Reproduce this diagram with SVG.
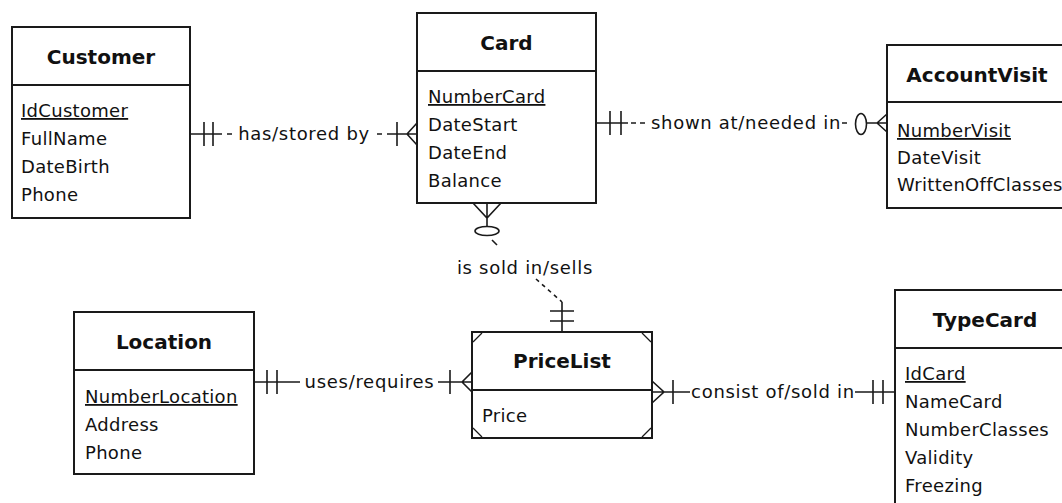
<svg xmlns="http://www.w3.org/2000/svg" width="1062" height="503" viewBox="0 0 1062 503">
  <style>
    .box { fill: #ffffff; stroke: #1a1a1a; stroke-width: 2; }
    .sep { stroke: #1a1a1a; stroke-width: 2; }
    .title { font-family: "DejaVu Sans", "Liberation Sans", sans-serif; font-weight: bold; font-size: 20px; fill: #111111; text-anchor: middle; }
    .attr { font-family: "DejaVu Sans", "Liberation Sans", sans-serif; font-size: 18px; letter-spacing: 0.3px; fill: #111111; }
    .key { text-decoration: underline; }
    .label { font-family: "DejaVu Sans", "Liberation Sans", sans-serif; font-size: 18px; letter-spacing: 0.7px; fill: #111111; text-anchor: middle; }
    .ln { stroke: #1a1a1a; stroke-width: 1.6; fill: none; }
    .dash { stroke: #1a1a1a; stroke-width: 1.6; fill: none; stroke-dasharray: 4 4; }
    .corner { stroke: #1a1a1a; stroke-width: 1.3; fill: none; }
  </style>

  <!-- Entities -->
  <g id="customer">
    <rect class="box" x="12" y="27" width="178" height="191"/>
    <line class="sep" x1="12" y1="85" x2="190" y2="85"/>
    <text class="title" x="101" y="64">Customer</text>
    <text class="attr key" x="21" y="117">IdCustomer</text>
    <text class="attr" x="21" y="145">FullName</text>
    <text class="attr" x="21" y="173">DateBirth</text>
    <text class="attr" x="21" y="201">Phone</text>
  </g>

  <g id="card">
    <rect class="box" x="417" y="13" width="179" height="190"/>
    <line class="sep" x1="417" y1="71" x2="596" y2="71"/>
    <text class="title" x="506.5" y="50">Card</text>
    <text class="attr key" x="428" y="103">NumberCard</text>
    <text class="attr" x="428" y="131">DateStart</text>
    <text class="attr" x="428" y="159">DateEnd</text>
    <text class="attr" x="428" y="187">Balance</text>
  </g>

  <g id="accountvisit">
    <rect class="box" x="887" y="45" width="180" height="163"/>
    <line class="sep" x1="887" y1="102" x2="1067" y2="102"/>
    <text class="title" x="977" y="82">AccountVisit</text>
    <text class="attr key" x="897" y="137">NumberVisit</text>
    <text class="attr" x="897" y="164">DateVisit</text>
    <text class="attr" x="897" y="191">WrittenOffClasses</text>
  </g>

  <g id="location">
    <rect class="box" x="74" y="312" width="180" height="162"/>
    <line class="sep" x1="74" y1="370" x2="254" y2="370"/>
    <text class="title" x="164" y="349">Location</text>
    <text class="attr key" x="85" y="403">NumberLocation</text>
    <text class="attr" x="85" y="431">Address</text>
    <text class="attr" x="85" y="459">Phone</text>
  </g>

  <g id="pricelist">
    <rect class="box" x="472" y="332" width="180" height="106"/>
    <line class="sep" x1="472" y1="390" x2="652" y2="390"/>
    <!-- dependent-entity corner marks -->
    <path class="corner" d="M473,342 L482,333 M642,333 L651,342 M473,428 L482,437 M642,437 L651,428"/>
    <text class="title" x="562" y="368">PriceList</text>
    <text class="attr" x="482" y="422">Price</text>
  </g>

  <g id="typecard">
    <rect class="box" x="895" y="290" width="180" height="230"/>
    <line class="sep" x1="895" y1="348" x2="1075" y2="348"/>
    <text class="title" x="985" y="327">TypeCard</text>
    <text class="attr key" x="905" y="380">IdCard</text>
    <text class="attr" x="905" y="408">NameCard</text>
    <text class="attr" x="905" y="436">NumberClasses</text>
    <text class="attr" x="905" y="464">Validity</text>
    <text class="attr" x="905" y="492">Freezing</text>
  </g>

  <!-- Relationships -->
  <g id="connectors">
    <!-- Customer 1 : N Card -->
    <g id="rel-customer-card">
      <path class="ln" d="M190,134 H222 M204,122 V146 M213,122 V146"/>
      <path class="ln" d="M227,134 H232 M377,134 H382"/>
      <text class="label" x="304" y="140">has/stored by</text>
      <path class="ln" d="M387,134 H417 M397,122 V146 M407,134 L417,123 M407,134 L417,145"/>
    </g>

    <!-- Card 1 : 0..N AccountVisit -->
    <g id="rel-card-visit">
      <path class="ln" d="M596,123 H628 M610,111 V135 M621,111 V135"/>
      <path class="ln" d="M631,123 H636 M640,123 H645 M842,123 H847"/>
      <text class="label" x="746" y="129">shown at/needed in</text>
      <ellipse class="ln" cx="861" cy="124" rx="5.5" ry="10.5"/>
      <path class="ln" d="M867,123 H887 M877,123 L887,114 M877,123 L887,132"/>
    </g>

    <!-- Card 0..N : 1 PriceList -->
    <g id="rel-card-pricelist">
      <path class="ln" d="M487,203 V226 M473,203 L487,218 L501,203"/>
      <ellipse class="ln" cx="487" cy="231" rx="12" ry="4.5"/>
      <path class="ln" d="M492,240 L497,245"/>
      <text class="label" x="525" y="274">is sold in/sells</text>
      <path class="dash" d="M536,279 L562,302"/>
      <path class="ln" d="M562,302 V332 M550,311 H574 M550,321 H574"/>
    </g>

    <!-- Location 1 : N PriceList -->
    <g id="rel-location-pricelist">
      <path class="ln" d="M254,382 H300 M267,370 V394 M277,370 V394"/>
      <text class="label" x="369.5" y="388">uses/requires</text>
      <path class="ln" d="M438,382 H472 M450,370 V394 M462,382 L472,372 M462,382 L472,392"/>
    </g>

    <!-- PriceList N : 1 TypeCard -->
    <g id="rel-pricelist-typecard">
      <path class="ln" d="M652,392 H690 M652,381 L664,392 L652,403 M673,380 V404"/>
      <text class="label" x="773" y="398">consist of/sold in</text>
      <path class="ln" d="M855,392 H895 M873,380 V404 M883,380 V404"/>
    </g>
  </g>
</svg>
